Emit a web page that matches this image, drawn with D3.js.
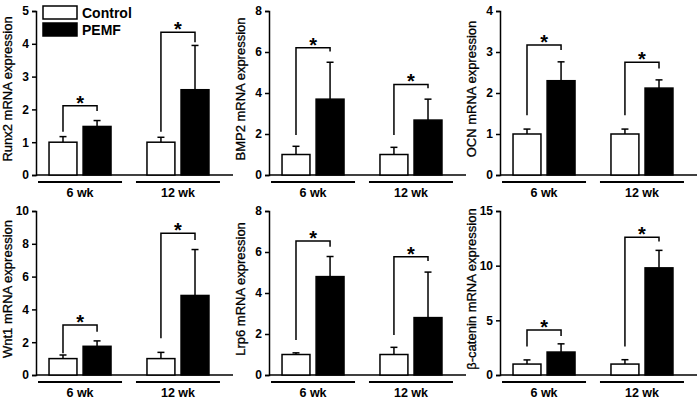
<!DOCTYPE html>
<html>
<head>
<meta charset="utf-8">
<script src="https://cdn.jsdelivr.net/npm/d3@7"></script>
<style>
  body { margin: 0; background: #fff; }
  text { font-family: Arial, "Liberation Sans", sans-serif; }
</style>
</head>
<body>
<div id="chart-area"></div>
<script>
// Data
var groups = ["6 wk", "12 wk"];
var series = ["Control", "PEMF"];
var genes = ["Runx2", "BMP2", "OCN", "Wnt1", "Lrp6", "\u03b2-catenin"];
var yMax = [5, 8, 4, 10, 8, 15];
var yStep = [1, 2, 1, 2, 2, 5];

var controlMean = [[1, 1], [1, 1], [1, 1], [1, 1], [1, 1], [1, 1]];
var controlErr = [[1.17, 1.15], [1.4, 1.35], [1.12, 1.12], [1.22, 1.38], [1.08, 1.35], [1.38, 1.4]];
var pemfMean = [[1.48, 2.6], [3.7, 2.68], [2.3, 2.12], [1.75, 4.85], [4.8, 2.8], [2.1, 9.8]];
var pemfErr = [[1.66, 3.95], [5.5, 3.7], [2.76, 2.32], [2.08, 7.65], [5.78, 5.02], [2.85, 11.4]];

// significance brackets: top, left leg end, right leg end
var bracketTop = [[2.11, 4.35], [6.21, 4.42], [3.17, 2.75], [3.05, 8.64], [6.54, 5.77], [4.12, 12.6]];
var bracketLeft = [[1.32, 1.32], [1.95, 1.95], [1.46, 1.46], [1.32, 2.24], [1.71, 1.95], [2.6, 2.6]];
var bracketRight = [[1.95, 4.05], [6.02, 4.23], [3.05, 2.6], [2.64, 8.23], [6.26, 5.56], [3.57, 12.2]];

// Layout
var panelX = [36, 269, 500];
var panelY = [11, 211];
var height = 164;
var width = 197;

var svg = d3.select("#chart-area").append("svg")
    .attr("width", 700)
    .attr("height", 399);

function drawPanel(i) {
  var g = svg.append("g")
    .attr("transform", "translate(" + panelX[i % 3] + ", " + panelY[Math.floor(i / 3)] + ")");

  var y = d3.scaleLinear()
    .domain([0, yMax[i]])
    .range([height, 0]);

  var x0 = d3.scaleBand()
    .domain(groups)
    .range([0, 186])
    .paddingInner(0.367)
    .paddingOuter(0.133);

  var x1 = d3.scaleBand()
    .domain(series)
    .range([0, x0.bandwidth()])
    .paddingInner(0.18);

  // Y axis
  var yAxisCall = d3.axisLeft(y)
    .tickValues(d3.range(0, yMax[i] + 0.001, yStep[i]))
    .tickFormat(d3.format("d"))
    .tickSizeOuter(0)
    .tickSize(4)
    .tickPadding(3);
  var yAx = g.append("g")
    .attr("class", "y axis")
    .call(yAxisCall);
  yAx.selectAll("path, line").attr("stroke", "#000").attr("stroke-width", 1.5);
  yAx.selectAll("text")
    .attr("font-size", "12px")
    .attr("font-weight", "bold")
    .attr("fill", "#000");

  // X axis line
  g.append("line")
    .attr("x1", 0).attr("x2", width)
    .attr("y1", height).attr("y2", height)
    .attr("stroke", "#000")
    .attr("stroke-width", 1.5);

  // Y label
  g.append("text")
    .attr("x", -(height / 2) + 4)
    .attr("y", -24)
    .attr("text-anchor", "middle")
    .attr("font-size", "13px")
    .attr("stroke", "#000")
    .attr("stroke-width", 0.3)
    .attr("transform", "rotate(-90)")
    .text(genes[i] + " mRNA expression");

  var rows = [];
  groups.forEach(function(grp, j) {
    rows.push({ group: grp, s: "Control", mean: controlMean[i][j], err: controlErr[i][j] });
    rows.push({ group: grp, s: "PEMF", mean: pemfMean[i][j], err: pemfErr[i][j] });
  });

  var cx = function(d) { return x0(d.group) + x1(d.s) + x1.bandwidth() / 2; };

  // Error bars (upper only)
  g.selectAll(".err")
    .data(rows)
    .enter().append("line")
      .attr("x1", cx).attr("x2", cx)
      .attr("y1", function(d) { return y(d.mean); })
      .attr("y2", function(d) { return y(d.err); })
      .attr("stroke", "#000")
      .attr("stroke-width", 1.5);
  g.selectAll(".cap")
    .data(rows)
    .enter().append("line")
      .attr("x1", function(d) { return cx(d) - 3.5; })
      .attr("x2", function(d) { return cx(d) + 3.5; })
      .attr("y1", function(d) { return y(d.err); })
      .attr("y2", function(d) { return y(d.err); })
      .attr("stroke", "#000")
      .attr("stroke-width", 1.5);

  // Bars
  g.selectAll("rect")
    .data(rows)
    .enter().append("rect")
      .attr("x", function(d) { return x0(d.group) + x1(d.s); })
      .attr("y", function(d) { return y(d.mean); })
      .attr("width", x1.bandwidth())
      .attr("height", function(d) { return height - y(d.mean); })
      .attr("fill", function(d) { return d.s === "PEMF" ? "#000" : "#fff"; })
      .attr("stroke", "#000")
      .attr("stroke-width", 1.5);

  // Brackets and asterisks
  groups.forEach(function(grp, j) {
    var xl = x0(grp) + x1("Control") + x1.bandwidth() / 2;
    var xr = x0(grp) + x1("PEMF") + x1.bandwidth() / 2;
    var path = d3.path();
    path.moveTo(xl, y(bracketLeft[i][j]));
    path.lineTo(xl, y(bracketTop[i][j]));
    path.lineTo(xr, y(bracketTop[i][j]));
    path.lineTo(xr, y(bracketRight[i][j]));
    g.append("path")
      .attr("d", path.toString())
      .attr("fill", "none")
      .attr("stroke", "#000")
      .attr("stroke-width", 1.5);
    g.append("text")
      .attr("x", (xl + xr) / 2)
      .attr("y", y(bracketTop[i][j]) + 4)
      .attr("text-anchor", "middle")
      .attr("font-size", "20px")
      .attr("font-weight", "bold")
      .text("*");

    // group underline and label
    var gc = x0(grp) + x0.bandwidth() / 2;
    g.append("line")
      .attr("x1", gc - 42).attr("x2", gc + 42)
      .attr("y1", height + 7).attr("y2", height + 7)
      .attr("stroke", "#000")
      .attr("stroke-width", 2);
    g.append("text")
      .attr("x", gc)
      .attr("y", height + 22)
      .attr("text-anchor", "middle")
      .attr("font-size", "12.5px")
      .attr("font-weight", "bold")
      .text(grp);
  });
}

for (var i = 0; i < genes.length; i++) drawPanel(i);

// Legend
var legend = svg.append("g").attr("transform", "translate(43, 6)");
series.forEach(function(s, k) {
  legend.append("rect")
    .attr("x", 0)
    .attr("y", k * 17)
    .attr("width", 34)
    .attr("height", 13)
    .attr("fill", s === "PEMF" ? "#000" : "#fff")
    .attr("stroke", "#000")
    .attr("stroke-width", 1.5);
  legend.append("text")
    .attr("x", 39)
    .attr("y", k * 17 + 12)
    .attr("font-size", "14px")
    .attr("font-weight", "bold")
    .text(s);
});
</script>
</body>
</html>
